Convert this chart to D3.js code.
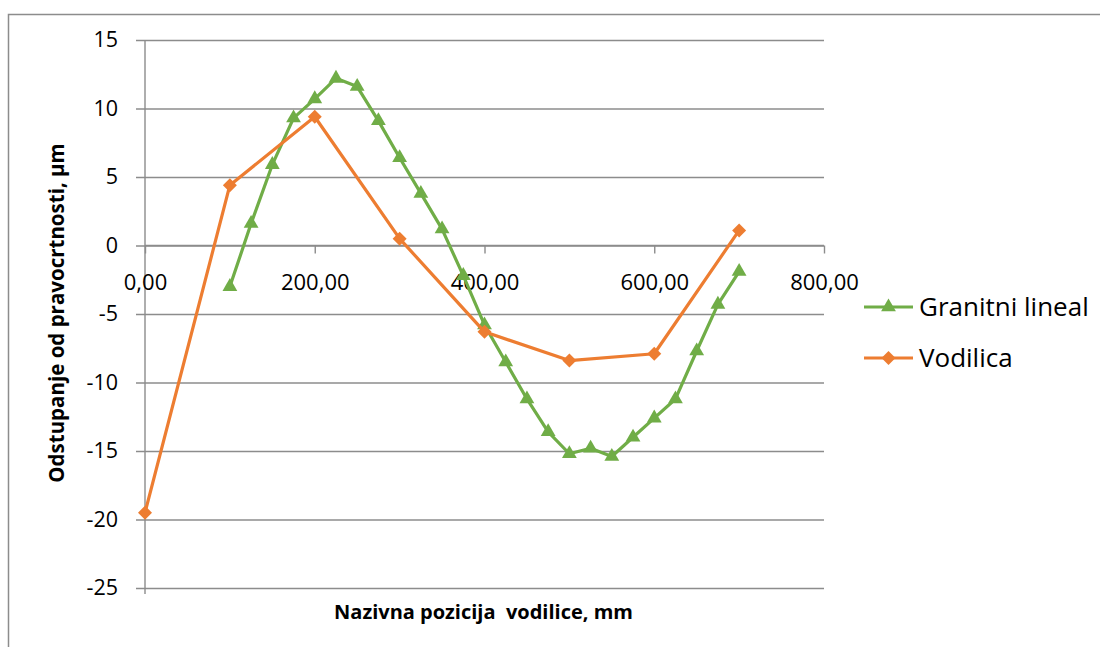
<!DOCTYPE html>
<html>
<head>
<meta charset="utf-8">
<script src="https://cdn.jsdelivr.net/npm/d3@7"></script>
<style>
  html, body { margin: 0; padding: 0; background: #fff; }
  svg { display: block; font-family: "Open Sans", "Noto Sans", sans-serif; }
</style>
</head>
<body>
<svg id="chart" width="1100" height="647"></svg>
<script>
// Measured straightness deviation along the guide
const seriesNames = ["Granitni lineal", "Vodilica"];
const seriesColors = ["#70AD47", "#ED7D31"];

const granitX = [100, 125, 150, 175, 200, 225, 250, 275, 300, 325, 350, 375, 400,
                 425, 450, 475, 500, 525, 550, 575, 600, 625, 650, 675, 700];
const granitY = [-3.0, 1.6, 5.9, 9.3, 10.7, 12.2, 11.6, 9.1, 6.4, 3.8, 1.2, -2.2, -5.8,
                 -8.5, -11.2, -13.6, -15.2, -14.8, -15.4, -14.0, -12.6, -11.2, -7.7, -4.3, -1.9];

const vodilicaX = [0, 100, 200, 300, 400, 500, 600, 700];
const vodilicaY = [-19.5, 4.4, 9.4, 0.5, -6.3, -8.4, -7.9, 1.1];

const xTicks = [0, 200, 400, 600, 800];
const yTicks = [15, 10, 5, 0, -5, -10, -15, -20, -25];

const xTitle = "Nazivna pozicija\u00a0 vodilice, mm";
const yTitle = "Odstupanje od pravocrtnosti, \u00b5m";

const svg = d3.select("#chart");
const plot = { left: 145, right: 824, top: 40, bottom: 588 };

const x = d3.scaleLinear().domain([0, 800]).range([plot.left, plot.right]);
const y = d3.scaleLinear().domain([-25, 15]).range([plot.bottom, plot.top]);

const gridColor = "#8c8c8c";

// Outer chart frame
svg.append("rect")
  .attr("x", 8.5).attr("y", 14.5)
  .attr("width", 1200).attr("height", 700)
  .attr("fill", "none").attr("stroke", "#8c8c8c").attr("stroke-width", 1.5);

// Horizontal gridlines with left tick marks and labels
const yAxis = d3.axisLeft(y).tickValues(yTicks)
  .tickSize(-(plot.right - plot.left))
  .tickFormat(d3.format("d"));
const gy = svg.append("g").attr("transform", `translate(${plot.left},0)`).call(yAxis);
gy.select(".domain").remove();
gy.selectAll(".tick line")
  .attr("x1", -9)
  .attr("x2", plot.right - plot.left)
  .attr("stroke", gridColor).attr("stroke-width", 1.4);
gy.selectAll(".tick text")
  .attr("x", -27)
  .attr("fill", "#000").attr("font-size", 21.5)
  .attr("font-family", "'Open Sans', sans-serif")
  .text(d => d < 0 ? "-" + Math.abs(d) : d);

// Vertical axis line
svg.append("line")
  .attr("x1", plot.left).attr("x2", plot.left)
  .attr("y1", plot.top).attr("y2", plot.bottom + 6)
  .attr("stroke", gridColor).attr("stroke-width", 1.4);

// Horizontal axis across y = 0 with tick marks and labels below
const fmtX = v => d3.format(".2f")(v).replace(".", ",");
const xAxis = d3.axisBottom(x).tickValues(xTicks).tickSize(8).tickFormat(fmtX).tickPadding(21);
const gx = svg.append("g").attr("transform", `translate(0,${y(0)})`).call(xAxis);
gx.select(".domain").attr("stroke", gridColor).attr("stroke-width", 1.4)
  .attr("d", `M${plot.left},0H${plot.right}`);
gx.selectAll(".tick line").attr("stroke", gridColor).attr("stroke-width", 1.4);
gx.selectAll(".tick text")
  .attr("fill", "#000").attr("font-size", 22)
  .attr("font-family", "'Open Sans', sans-serif");

// Series
const tri = d3.symbol().type(d3.symbolTriangle).size(95);
const sq = d3.symbol().type(d3.symbolSquare).size(98);

const granit = granitX.map((v, i) => [v, granitY[i]]);
const vodilica = vodilicaX.map((v, i) => [v, vodilicaY[i]]);

const line = d3.line().x(d => x(d[0])).y(d => y(d[1]));

function drawSeries(data, color, sym, rot) {
  const g = svg.append("g");
  g.append("path").datum(data)
    .attr("d", line).attr("fill", "none")
    .attr("stroke", color).attr("stroke-width", 3.2).attr("stroke-linejoin", "round");
  g.selectAll("path.m").data(data).enter().append("path")
    .attr("class", "m")
    .attr("transform", d => `translate(${x(d[0])},${y(d[1])}) rotate(${rot})`)
    .attr("d", sym).attr("fill", color);
}
drawSeries(granit, seriesColors[0], tri, 0);
drawSeries(vodilica, seriesColors[1], sq, 45);

// Axis titles
svg.append("text")
  .attr("x", (plot.left + plot.right) / 2 - 1).attr("y", 619)
  .attr("text-anchor", "middle").attr("font-weight", "bold")
  .attr("font-size", 20).attr("fill", "#000")
  .text(xTitle);

svg.append("text")
  .attr("transform", `translate(57,${(plot.top + plot.bottom) / 2 - 1}) rotate(-90)`)
  .attr("text-anchor", "middle").attr("dy", "0.35em").attr("font-weight", "bold")
  .attr("font-size", 20.5).attr("fill", "#000")
  .text(yTitle);

// Legend
const legend = svg.append("g");
const legendRows = [
  { name: seriesNames[0], color: seriesColors[0], sym: tri, rot: 0, cy: 307 },
  { name: seriesNames[1], color: seriesColors[1], sym: sq, rot: 45, cy: 358 }
];
legendRows.forEach(r => {
  legend.append("line")
    .attr("x1", 864).attr("x2", 913).attr("y1", r.cy).attr("y2", r.cy)
    .attr("stroke", r.color).attr("stroke-width", 3.2);
  legend.append("path")
    .attr("transform", `translate(888.5,${r.cy}) rotate(${r.rot})`)
    .attr("d", r.sym).attr("fill", r.color);
  legend.append("text")
    .attr("x", 919).attr("y", r.cy).attr("dy", "0.36em")
    .attr("font-size", 26).attr("fill", "#000")
    .text(r.name);
});
</script>
</body>
</html>
